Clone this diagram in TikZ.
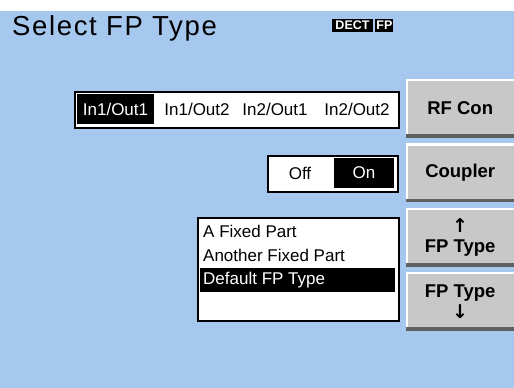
\documentclass[tikz,border=0pt]{standalone}
\usepackage{fontspec}
\setmainfont{Liberation Sans}
\newfontfamily\arrowfont{DejaVu Sans}
\usetikzlibrary{positioning}

\definecolor{scrblue}{RGB}{166,200,238}
\definecolor{btngray}{RGB}{200,200,200}
\definecolor{btndark}{RGB}{96,96,96}

\newcommand{\keyarrow}[1]{{\arrowfont\bfseries\fontsize{19}{19}\selectfont #1}}

\begin{document}
\begin{tikzpicture}[
		x=1pt, y=-1pt,
		every node/.style={inner sep=0pt, font=\fontsize{17}{20}\selectfont},
		btn/.style={fill=btngray, minimum width=108pt, minimum height=58pt, align=center,
			font=\bfseries\fontsize{18.5}{21}\selectfont,
			path picture={
				\draw[white, line width=4pt] (path picture bounding box.south west) -- (path picture bounding box.north west) -- (path picture bounding box.north east);
				\draw[btndark, line width=6pt] (path picture bounding box.south west) -- (path picture bounding box.south east);
			}},
		box/.style={draw=black, line width=1.5pt, fill=white, anchor=north west},
		sel/.style={fill=black, text=white},
		logo/.style={fill=black, text=white, minimum height=13pt, font=\bfseries\fontsize{12.5}{13}\selectfont}
	]
	
		% Screen
		\useasboundingbox (0,0) rectangle (514,388);
		\fill[scrblue] (0,11) rectangle (514,388);
		
		% Title
		\node[anchor=base west, font=\fontsize{27.5}{30}\selectfont\addfontfeature{LetterSpace=6}] (title) at (12,35) {Select FP Type};
		\node[logo, minimum width=41pt] (dect) at (352.5,25.5) {DECT};
		\node[logo, minimum width=18pt, right=2pt of dect] (fp) {FP};
		
		% Softkeys
		\node[btn, anchor=north west] (rfcon) at (406,79) {RF Con};
		\node[btn, below=6pt of rfcon] (coupler) {Coupler};
		\node[btn, below=6pt of coupler] (fpup) {\keyarrow{↑}\\[-1pt]FP Type};
		\node[btn, below=6pt of fpup] (fpdown) {FP Type\\[0pt]\keyarrow{↓}};
		
		% RF connector
		\node[box, minimum width=324pt, minimum height=36pt] (portbar) at (74,91) {};
		\node[sel, minimum width=77pt, minimum height=30pt] (port1) at (115.5,109) {In1/Out1};
		\node (port2) at (197,109) {In1/Out2};
		\node (port3) at (275,109) {In2/Out1};
		\node (port4) at (357,109) {In2/Out2};
		
		% Coupler
		\node[box, minimum width=130pt, minimum height=36pt] (cplbox) at (267,155) {};
		\node (cploff) at (300,173) {Off};
		\node[sel, minimum width=60pt, minimum height=30pt] (cplon) at (364,173) {On};
		
		% FP types
		\node[box, minimum width=201pt, minimum height=103pt] (typelist) at (197,217) {};
		\node[sel, minimum width=195pt, minimum height=24pt] (typesel) at (297.5,280) {};
		\node[anchor=west] (type1) at (203,231) {A Fixed Part};
		\node[anchor=west] (type2) at (203,255) {Another Fixed Part};
		\node[anchor=west, text=white] (type3) at (203,280) {Default FP Type};
		
	\end{tikzpicture}
\end{document}
